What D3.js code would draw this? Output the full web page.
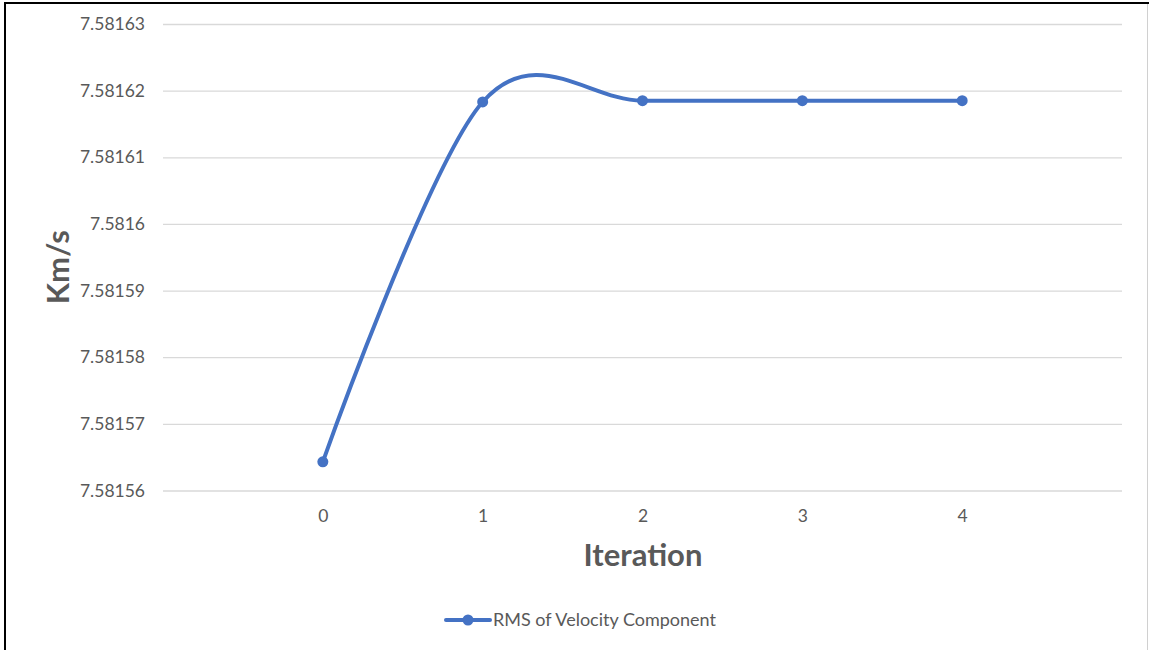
<!DOCTYPE html>
<html>
<head>
<meta charset="utf-8">
<script src="https://cdn.jsdelivr.net/npm/d3@7"></script>
<style>
  html, body { margin: 0; padding: 0; background: #fff; }
  svg { display: block; }
</style>
</head>
<body>
<svg id="chart" width="1149" height="650"></svg>
<script>
// Iteration numbers and the RMS velocity value (km/s) reached at each one
const iterations = [0, 1, 2, 3, 4];
const rmsVelocity = [7.5815643, 7.5816183, 7.5816185, 7.5816185, 7.5816185];
const yTicks = [7.58156, 7.58157, 7.58158, 7.58159, 7.5816, 7.58161, 7.58162, 7.58163];
const seriesName = "RMS of Velocity Component";
const xTitle = "Iteration";
const yTitle = "Km/s";

const W = 1149, H = 650;
const svg = d3.select("#chart");
const font = "Lato, 'Open Sans', sans-serif";
const blue = "#4472C4";

// frame
svg.append("rect").attr("x", 0).attr("y", 0).attr("width", W).attr("height", H).attr("fill", "#fff");
svg.append("line").attr("x1", 5).attr("x2", 5).attr("y1", 2).attr("y2", H).attr("stroke", "#000").attr("stroke-width", 2);
svg.append("line").attr("x1", 4).attr("x2", W).attr("y1", 3).attr("y2", 3).attr("stroke", "#000").attr("stroke-width", 2);
svg.append("line").attr("x1", 1147.5).attr("x2", 1147.5).attr("y1", 4).attr("y2", H).attr("stroke", "#d0d0d0").attr("stroke-width", 1);

const plot = { left: 163, right: 1122, top: 24, bottom: 490.5 };

const x = d3.scaleLinear().domain([-1, 5]).range([plot.left, plot.right]);
const y = d3.scaleLinear().domain([7.58156, 7.58163]).range([plot.bottom, plot.top]);

// horizontal gridlines + y labels
const yAxis = d3.axisLeft(y).tickValues(yTicks).tickSize(-(plot.right - plot.left)).tickPadding(18)
  .tickFormat(d => d3.format(".5f")(d).replace(/0+$/, ""));
const gy = svg.append("g").attr("transform", `translate(${plot.left},0)`).call(yAxis);
gy.select(".domain").remove();
gy.selectAll(".tick line").attr("stroke", "#d9d9d9").attr("stroke-width", 1.3);
gy.selectAll(".tick text").attr("fill", "#595959").style("font-family", font).style("font-size", "17.5px");

// x labels
const xAxis = d3.axisBottom(x).tickValues(iterations).tickSize(0).tickPadding(19).tickFormat(d3.format("d"));
const gx = svg.append("g").attr("transform", `translate(0,${plot.bottom})`).call(xAxis);
gx.select(".domain").remove();
gx.selectAll(".tick text").attr("fill", "#595959").style("font-family", font).style("font-size", "17.5px");

// axis titles
svg.append("text").attr("x", (plot.left + plot.right) / 2 + 0.5).attr("y", 566)
  .attr("text-anchor", "middle").attr("fill", "#595959")
  .style("font-family", font).style("font-size", "31px").style("font-weight", "bold").text(xTitle);
svg.append("text").attr("transform", `translate(69,${(plot.top + plot.bottom) / 2 + 10}) rotate(-90)`)
  .attr("text-anchor", "middle").attr("fill", "#595959")
  .style("font-family", font).style("font-size", "31px").style("font-weight", "bold").text(yTitle);

// smoothed series line
const pts = iterations.map((it, i) => [x(it), y(rmsVelocity[i])]);
const line = d3.line().curve(d3.curveCardinal.tension(0));
svg.append("path").attr("d", line(pts)).attr("fill", "none").attr("stroke", blue)
  .attr("stroke-width", 4).attr("stroke-linecap", "round");
svg.selectAll("circle.pt").data(pts).join("circle").attr("class", "pt")
  .attr("cx", d => d[0]).attr("cy", d => d[1]).attr("r", 5.5).attr("fill", blue);

// legend
const lg = svg.append("g").attr("transform", "translate(446,620)");
lg.append("line").attr("x1", 0).attr("x2", 44).attr("y1", 0).attr("y2", 0).attr("stroke", blue).attr("stroke-width", 4).attr("stroke-linecap", "round");
lg.append("circle").attr("cx", 22).attr("cy", 0).attr("r", 5.5).attr("fill", blue);
lg.append("text").attr("x", 47).attr("y", 0).attr("dy", "0.35em").attr("fill", "#595959")
  .style("font-family", font).style("font-size", "18px").text(seriesName);
</script>
</body>
</html>
